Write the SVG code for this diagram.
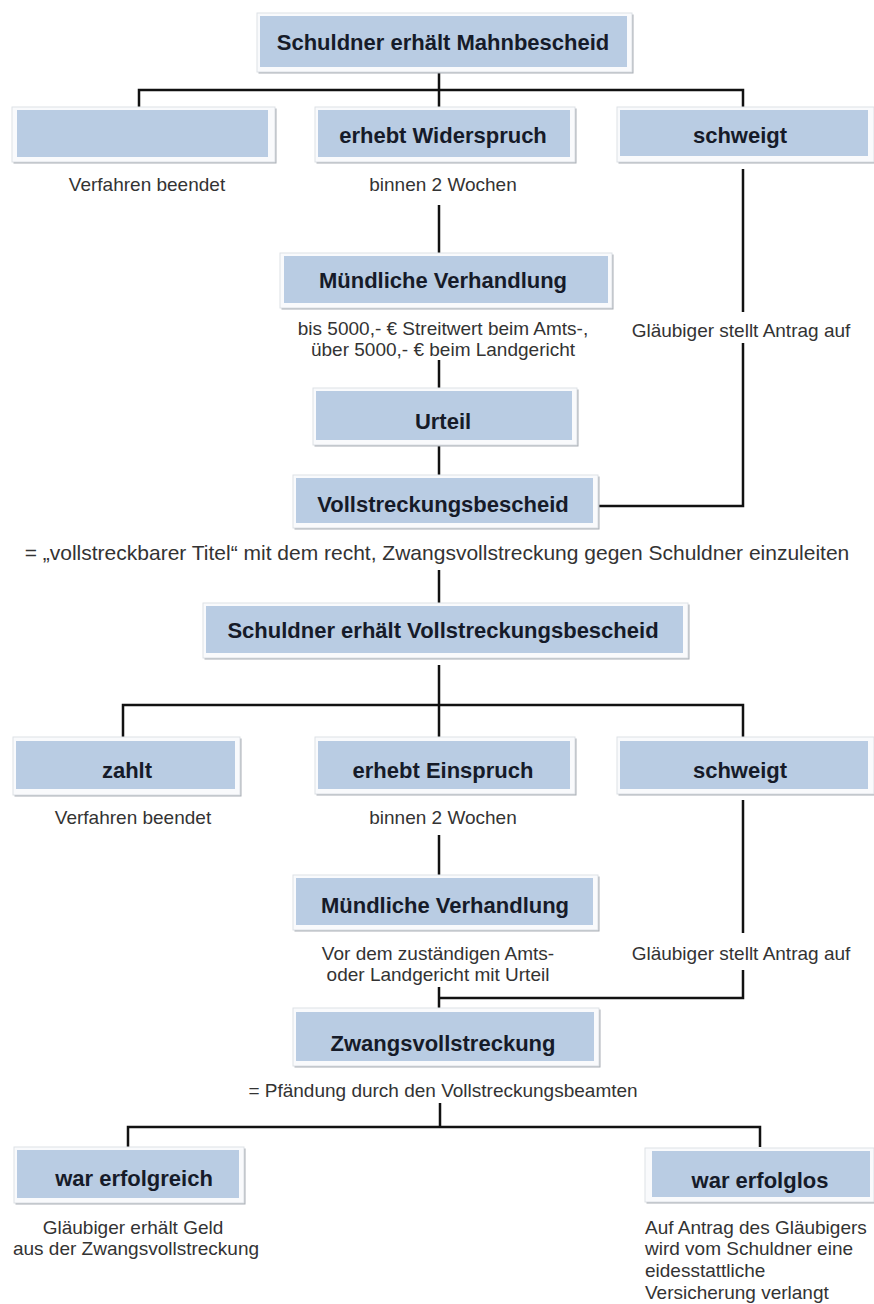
<svg xmlns="http://www.w3.org/2000/svg" width="874" height="1304" viewBox="0 0 874 1304">
<style>
.shadow{fill:#a9aeb5}
.frame{fill:#f9fafc;stroke:#dde1e6;stroke-width:1}
.fill{fill:#b9cce3}
.lbl{font-family:"Liberation Sans",Arial,sans-serif;font-weight:bold;font-size:22px;fill:#161b29;text-anchor:middle}
.note{font-family:"Liberation Sans",Arial,sans-serif;font-size:19px;fill:#333;text-anchor:middle}
.big{font-size:21px}
.left{text-anchor:start}
.conn{fill:none;stroke:#111;stroke-width:2.5;stroke-linejoin:miter}
</style>
<rect width="874" height="1304" fill="#ffffff"/>

<g id="connectors">
  <path class="conn" d="M439 72V90M139 107V90H743V108M439 90V108"/>
  <path class="conn" d="M439 205V253"/>
  <path class="conn" d="M743 169V312M743 343V506H598"/>
  <path class="conn" d="M439 360V388"/>
  <path class="conn" d="M439 445V475"/>
  <path class="conn" d="M439 570V603"/>
  <path class="conn" d="M439 665V705M123 737V705H743V737M439 705V737"/>
  <path class="conn" d="M439 835V875"/>
  <path class="conn" d="M743 800V933M743 970V998H439M439 987V1008"/>
  <path class="conn" d="M440 1103V1127M128 1147V1127H760V1147"/>
</g>

<g id="n-mahnbescheid">
  <rect class="shadow" x="258.5" y="14.5" width="375" height="59"/>
  <rect class="frame" x="257" y="13" width="375" height="59"/>
  <rect class="fill" x="260" y="16" width="367" height="51"/>
  <text class="lbl" x="443" y="50">Schuldner erhält Mahnbescheid</text>
</g>

<g id="n-leer">
  <rect class="shadow" x="13.5" y="108.5" width="263" height="55"/>
  <rect class="frame" x="12" y="107" width="263" height="55"/>
  <rect class="fill" x="17" y="110" width="251" height="47"/>
</g>
<text id="t-verfahren1" class="note" x="147" y="191">Verfahren beendet</text>

<g id="n-widerspruch">
  <rect class="shadow" x="316.5" y="108.5" width="260" height="55"/>
  <rect class="frame" x="315" y="107" width="260" height="55"/>
  <rect class="fill" x="318" y="110" width="252" height="47"/>
  <text class="lbl" x="443" y="143">erhebt Widerspruch</text>
</g>
<text id="t-binnen1" class="note" x="443" y="191">binnen 2 Wochen</text>

<g id="n-schweigt1">
  <rect class="shadow" x="618.5" y="108.5" width="257" height="55"/>
  <rect class="frame" x="617" y="107" width="257" height="55"/>
  <rect class="fill" x="620" y="110" width="248" height="46"/>
  <text class="lbl" x="740" y="143">schweigt</text>
</g>
<text id="t-glaeubiger1" class="note" x="741" y="337">Gläubiger stellt Antrag auf</text>

<g id="n-muendlich1">
  <rect class="shadow" x="281.5" y="254.5" width="332" height="55"/>
  <rect class="frame" x="280" y="253" width="332" height="55"/>
  <rect class="fill" x="284" y="256" width="324" height="47"/>
  <text class="lbl" x="443" y="288">Mündliche Verhandlung</text>
</g>
<text id="t-streitwert" class="note"><tspan x="443" y="335">bis 5000,- € Streitwert beim Amts-,</tspan><tspan x="443" y="356">über 5000,- € beim Landgericht</tspan></text>

<g id="n-urteil">
  <rect class="shadow" x="314.5" y="389.5" width="264" height="57"/>
  <rect class="frame" x="313" y="388" width="264" height="57"/>
  <rect class="fill" x="316" y="391" width="256" height="49"/>
  <text class="lbl" x="443" y="429">Urteil</text>
</g>

<g id="n-vollstreckungsbescheid">
  <rect class="shadow" x="294.5" y="476.5" width="305" height="53"/>
  <rect class="frame" x="293" y="475" width="305" height="53"/>
  <rect class="fill" x="296" y="478" width="297" height="45"/>
  <text class="lbl" x="443" y="512">Vollstreckungsbescheid</text>
</g>
<text id="t-titel" class="note big" x="437" y="560">= „vollstreckbarer Titel“ mit dem recht, Zwangsvollstreckung gegen Schuldner einzuleiten</text>

<g id="n-schuldner-vb">
  <rect class="shadow" x="204.5" y="604.5" width="485" height="55"/>
  <rect class="frame" x="203" y="603" width="485" height="55"/>
  <rect class="fill" x="206" y="606" width="477" height="47"/>
  <text class="lbl" x="443" y="638">Schuldner erhält Vollstreckungsbescheid</text>
</g>

<g id="n-zahlt">
  <rect class="shadow" x="14.5" y="738.5" width="227" height="58"/>
  <rect class="frame" x="13" y="737" width="227" height="58"/>
  <rect class="fill" x="16" y="741" width="219" height="48"/>
  <text class="lbl" x="127" y="778">zahlt</text>
</g>
<text id="t-verfahren2" class="note" x="133" y="824">Verfahren beendet</text>

<g id="n-einspruch">
  <rect class="shadow" x="316.5" y="738.5" width="260" height="57"/>
  <rect class="frame" x="315" y="737" width="260" height="57"/>
  <rect class="fill" x="318" y="741" width="252" height="48"/>
  <text class="lbl" x="443" y="778">erhebt Einspruch</text>
</g>
<text id="t-binnen2" class="note" x="443" y="824">binnen 2 Wochen</text>

<g id="n-schweigt2">
  <rect class="shadow" x="618.5" y="738.5" width="257" height="57"/>
  <rect class="frame" x="617" y="737" width="257" height="57"/>
  <rect class="fill" x="620" y="741" width="248" height="48"/>
  <text class="lbl" x="740" y="778">schweigt</text>
</g>
<text id="t-glaeubiger2" class="note" x="741" y="960">Gläubiger stellt Antrag auf</text>

<g id="n-muendlich2">
  <rect class="shadow" x="294.5" y="876.5" width="305" height="55"/>
  <rect class="frame" x="293" y="875" width="305" height="55"/>
  <rect class="fill" x="296" y="878" width="297" height="47"/>
  <text class="lbl" x="445" y="913">Mündliche Verhandlung</text>
</g>
<text id="t-vordem" class="note"><tspan x="438" y="960">Vor dem zuständigen Amts-</tspan><tspan x="438" y="981">oder Landgericht mit Urteil</tspan></text>

<g id="n-zwangsvollstreckung">
  <rect class="shadow" x="294.5" y="1009.5" width="306" height="58"/>
  <rect class="frame" x="293" y="1008" width="306" height="58"/>
  <rect class="fill" x="296" y="1012" width="298" height="49"/>
  <text class="lbl" x="443" y="1051">Zwangsvollstreckung</text>
</g>
<text id="t-pfaendung" class="note" x="443" y="1097">= Pfändung durch den Vollstreckungsbeamten</text>

<g id="n-erfolgreich">
  <rect class="shadow" x="15.5" y="1148.5" width="230" height="56"/>
  <rect class="frame" x="14" y="1147" width="230" height="56"/>
  <rect class="fill" x="17" y="1150" width="222" height="48"/>
  <text class="lbl" x="134" y="1186">war erfolgreich</text>
</g>
<text id="t-geld" class="note"><tspan x="133" y="1234">Gläubiger erhält Geld</tspan><tspan x="136" y="1255">aus der Zwangsvollstreckung</tspan></text>

<g id="n-erfolglos">
  <rect class="shadow" x="646.5" y="1149.5" width="229" height="54"/>
  <rect class="frame" x="645" y="1148" width="229" height="54"/>
  <rect class="fill" x="652" y="1151" width="218" height="46"/>
  <text class="lbl" x="760" y="1188">war erfolglos</text>
</g>
<text id="t-eid" class="note left"><tspan x="645" y="1234">Auf Antrag des Gläubigers</tspan><tspan x="645" y="1255">wird vom Schuldner eine</tspan><tspan x="645" y="1277">eidesstattliche</tspan><tspan x="645" y="1299">Versicherung verlangt</tspan></text>
</svg>
